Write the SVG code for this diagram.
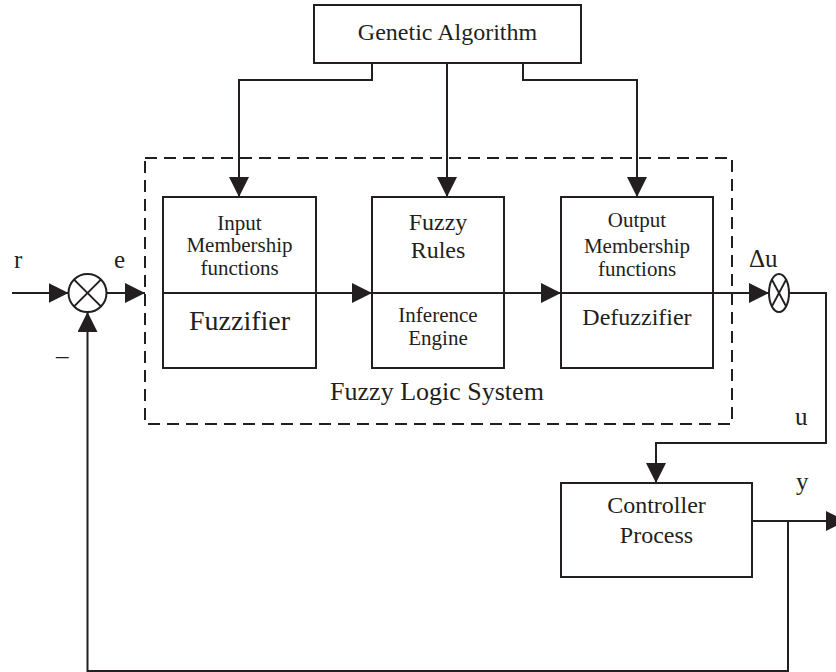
<svg xmlns="http://www.w3.org/2000/svg" width="836" height="672" viewBox="0 0 836 672">
  <style>
    .box { fill: #ffffff; stroke: #231f20; stroke-width: 2; }
    .line { fill: none; stroke: #231f20; stroke-width: 2; }
    .dash { fill: none; stroke: #231f20; stroke-width: 2; stroke-dasharray: 12 7; }
    text { font-family: "Liberation Serif", "Times New Roman", serif; fill: #231f20; text-anchor: middle; }
    .t24 { font-size: 24px; }
    .t21 { font-size: 21px; }
    .t28 { font-size: 28px; }
    .t26 { font-size: 26px; }
    .lbl { font-size: 25px; text-anchor: start; }
  </style>
  <defs>
    <marker id="arrow" viewBox="0 0 20 20" refX="20" refY="10" markerWidth="20" markerHeight="20" markerUnits="userSpaceOnUse" orient="auto">
      <path d="M0,0 L20,10 L0,20 Z" fill="#231f20"/>
    </marker>
  </defs>
  <rect width="836" height="672" fill="#ffffff"/>

  <!-- fuzzy logic system boundary -->
  <g id="fls-boundary">
    <rect class="dash" x="145" y="158" width="587" height="266"/>
    <text class="t26" x="437" y="400">Fuzzy Logic System</text>
  </g>

  <g id="genetic-algorithm">
    <rect class="box" x="314" y="5" width="267" height="58"/>
    <text class="t24" x="447.5" y="40">Genetic Algorithm</text>
  </g>

  <g id="fuzzifier">
    <rect class="box" x="163" y="197" width="153" height="171"/>
    <line class="line" x1="163" y1="293" x2="316" y2="293"/>
    <text class="t21" x="239.5" y="230">Input</text>
    <text class="t21" x="239.5" y="252">Membership</text>
    <text class="t21" x="239.5" y="275">functions</text>
    <text class="t28" x="239.5" y="330">Fuzzifier</text>
  </g>

  <g id="inference-engine">
    <rect class="box" x="372" y="197" width="132" height="171"/>
    <line class="line" x1="372" y1="293" x2="504" y2="293"/>
    <text class="t24" x="438" y="230">Fuzzy</text>
    <text class="t24" x="438" y="258">Rules</text>
    <text class="t21" x="438" y="322">Inference</text>
    <text class="t21" x="438" y="345">Engine</text>
  </g>

  <g id="defuzzifier">
    <rect class="box" x="561" y="197" width="152" height="171"/>
    <line class="line" x1="561" y1="293" x2="713" y2="293"/>
    <text class="t21" x="637" y="227">Output</text>
    <text class="t21" x="637" y="253">Membership</text>
    <text class="t21" x="637" y="276">functions</text>
    <text class="t24" x="637" y="325">Defuzzifier</text>
  </g>

  <g id="controller-process">
    <rect class="box" x="561" y="483" width="191" height="94"/>
    <text class="t24" x="656.5" y="513">Controller</text>
    <text class="t24" x="656.5" y="543">Process</text>
  </g>

  <g id="sum-error">
    <circle class="line" cx="87.5" cy="293" r="19"/>
    <line class="line" x1="74.1" y1="279.6" x2="100.9" y2="306.4"/>
    <line class="line" x1="100.9" y1="279.6" x2="74.1" y2="306.4"/>
  </g>

  <g id="sum-increment">
    <ellipse class="line" cx="779" cy="293" rx="10" ry="19"/>
    <line class="line" x1="771.9" y1="279.6" x2="786.1" y2="306.4"/>
    <line class="line" x1="786.1" y1="279.6" x2="771.9" y2="306.4"/>
  </g>

  <g id="connectors">
    <!-- genetic algorithm tuning paths -->
    <polyline class="line" points="372,63 372,80 239,80 239,197" marker-end="url(#arrow)"/>
    <line class="line" x1="447" y1="63" x2="447" y2="197" marker-end="url(#arrow)"/>
    <polyline class="line" points="523,63 523,80 637,80 637,197" marker-end="url(#arrow)"/>
    <!-- forward path -->
    <line class="line" x1="12" y1="293" x2="68.5" y2="293" marker-end="url(#arrow)"/>
    <line class="line" x1="106.5" y1="293" x2="145" y2="293" marker-end="url(#arrow)"/>
    <line class="line" x1="316" y1="293" x2="372" y2="293" marker-end="url(#arrow)"/>
    <line class="line" x1="504" y1="293" x2="561" y2="293" marker-end="url(#arrow)"/>
    <line class="line" x1="713" y1="293" x2="769" y2="293" marker-end="url(#arrow)"/>
    <polyline class="line" points="789,293 826,293 826,443 656,443 656,483" marker-end="url(#arrow)"/>
    <line class="line" x1="752" y1="521" x2="846" y2="521" marker-end="url(#arrow)"/>
    <!-- feedback path -->
    <polyline class="line" points="788,521 788,671 87.5,671 87.5,312" marker-end="url(#arrow)"/>
  </g>

  <g id="signal-labels">
    <text class="lbl" x="14" y="268">r</text>
    <text class="lbl" x="114" y="268">e</text>
    <text class="lbl" x="56" y="364">–</text>
    <text class="lbl" x="749" y="267">Δu</text>
    <text class="lbl" x="795" y="425">u</text>
    <text class="lbl" x="796" y="490">y</text>
  </g>
</svg>
